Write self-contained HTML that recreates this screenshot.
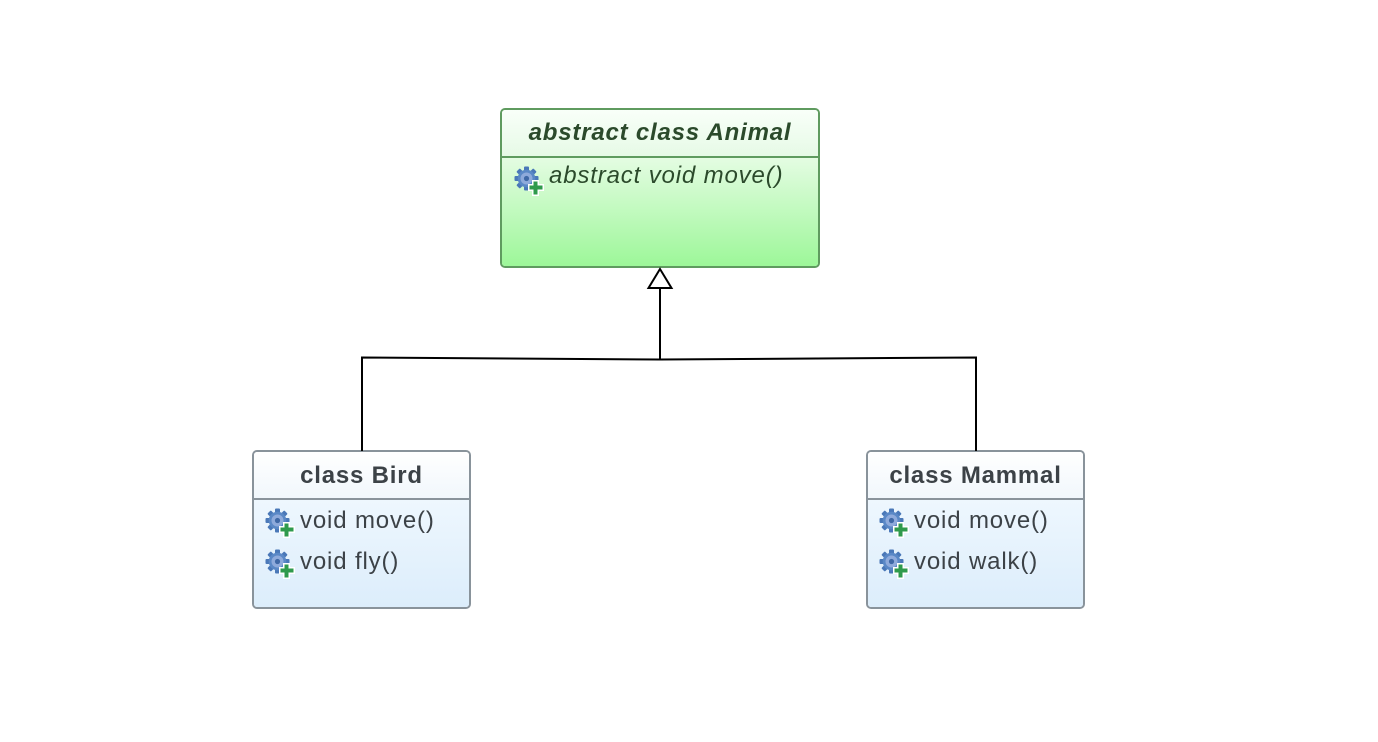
<!DOCTYPE html>
<html>
<head>
<meta charset="utf-8">
<style>
  html, body { margin:0; padding:0; background:#ffffff; }
  body { width:1378px; height:742px; position:relative; overflow:hidden;
         font-family:"Liberation Sans", Arial, sans-serif; }
  .box { position:absolute; box-sizing:border-box; border-radius:5px; overflow:hidden; }
  .hdr { position:absolute; left:0; right:0; top:0; box-sizing:border-box; text-align:center; font-weight:bold; font-size:24px; letter-spacing:0.8px; }
  .body { position:absolute; left:0; right:0; bottom:0; }
  .row { position:absolute; font-size:24px; letter-spacing:0.85px; white-space:nowrap; }
  .icon { position:absolute; width:31px; height:30px; }
  .animal { left:500px; top:108px; width:320px; height:160px; border:2px solid #5f9b5f; color:#2b4a2b; }
  .animal .hdr { height:48px; background:linear-gradient(#f9fff9,#e6fae6); border-bottom:2px solid #5f9b5f; font-style:italic; }
  .animal .body { top:48px; background:linear-gradient(#e4fce2,#9df799); }
  .cls { top:450px; width:219px; height:159px; border:2px solid #89939b; color:#3c4247; }
  .cls .hdr { height:48px; background:linear-gradient(#ffffff,#f1f7fc); border-bottom:2px solid #89939b; }
  .cls .body { top:48px; background:linear-gradient(#eef7fe,#dcedfb); }
</style>
</head>
<body>

<svg width="0" height="0" style="position:absolute">
  <defs>
    <g id="ic">
      <g fill="#4a78b8">
        <rect x="10" y="0.5" width="5" height="5" rx="1"/>
        <rect x="10" y="19.5" width="5" height="5" rx="1"/>
        <rect x="0.5" y="10" width="5" height="5" rx="1"/>
        <rect x="19.5" y="10" width="5" height="5" rx="1"/>
        <rect x="10" y="0.5" width="5" height="5" rx="1" transform="rotate(45 12.5 12.5)"/>
        <rect x="10" y="19.5" width="5" height="5" rx="1" transform="rotate(45 12.5 12.5)"/>
        <rect x="0.5" y="10" width="5" height="5" rx="1" transform="rotate(45 12.5 12.5)"/>
        <rect x="19.5" y="10" width="5" height="5" rx="1" transform="rotate(45 12.5 12.5)"/>
      </g>
      <circle cx="12.5" cy="12.5" r="8.8" fill="#5a88c6"/>
      <circle cx="12.5" cy="12.5" r="6" fill="#8eaadb"/>
      <circle cx="12.5" cy="12.5" r="2.6" fill="#3f68a6"/>
      <path d="M18 14 h7 v4 h5 v7 h-5 v5 h-7 v-5 h-4 v-7 h4 z" fill="#ffffff"/>
      <path d="M19.5 15.5 h4 v4 h5 v4 h-5 v5 h-4 v-5 h-4 v-4 h4 z" fill="#2f9a4c"/>
    </g>
  </defs>
</svg>

<!-- Animal -->
<div class="box animal">
  <div class="hdr"><div style="position:absolute;left:0;right:0;top:9px;">abstract class Animal</div></div>
  <div class="body">
    <svg class="icon" style="left:12px;top:8px" viewBox="0 0 31 30"><use href="#ic"/></svg>
    <div class="row" style="left:47px;top:4px;font-style:italic;">abstract void move()</div>
  </div>
</div>

<!-- Bird -->
<div class="box cls" style="left:252px;">
  <div class="hdr"><div style="position:absolute;left:0;right:0;top:10px;">class Bird</div></div>
  <div class="body">
    <svg class="icon" style="left:11px;top:8px" viewBox="0 0 31 30"><use href="#ic"/></svg>
    <div class="row" style="left:46px;top:7px;">void move()</div>
    <svg class="icon" style="left:11px;top:49px" viewBox="0 0 31 30"><use href="#ic"/></svg>
    <div class="row" style="left:46px;top:48px;">void fly()</div>
  </div>
</div>

<!-- Mammal -->
<div class="box cls" style="left:866px;">
  <div class="hdr"><div style="position:absolute;left:0;right:0;top:10px;">class Mammal</div></div>
  <div class="body">
    <svg class="icon" style="left:11px;top:8px" viewBox="0 0 31 30"><use href="#ic"/></svg>
    <div class="row" style="left:46px;top:7px;">void move()</div>
    <svg class="icon" style="left:11px;top:49px" viewBox="0 0 31 30"><use href="#ic"/></svg>
    <div class="row" style="left:46px;top:48px;">void walk()</div>
  </div>
</div>

<!-- Connectors -->
<svg width="1378" height="742" style="position:absolute;left:0;top:0" viewBox="0 0 1378 742">
  <g stroke="#000" stroke-width="2" fill="none">
    <polyline points="362,451 362,357.5 660,359.5 976,357.5 976,451"/>
    <line x1="660" y1="359.5" x2="660" y2="288"/>
    <polygon points="660,269 648.5,288 671.5,288" fill="#ffffff"/>
  </g>
</svg>

</body>
</html>
